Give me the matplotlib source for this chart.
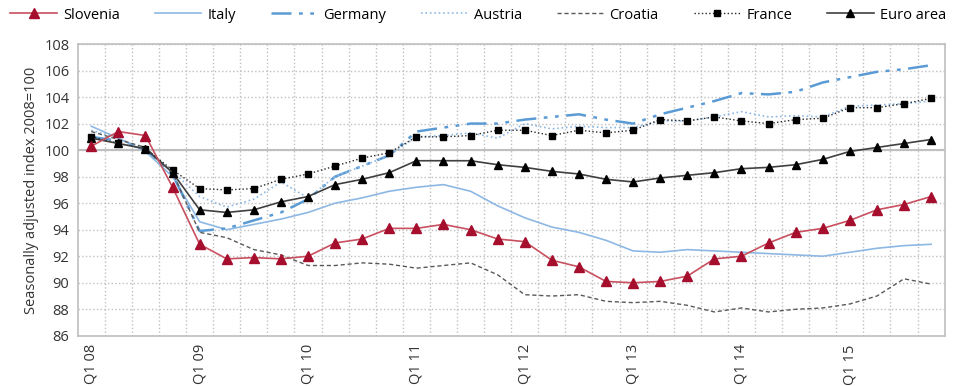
import matplotlib.pyplot as plt
import numpy as np

plt.rcParams['font.family'] = ['Open Sans', 'DejaVu Sans']

quarters = ['Q%d %02d' % (q, y) for y in range(8, 16) for q in range(1, 5)]

slovenia = [100.3, 101.4, 101.1, 97.2, 92.9, 91.8, 91.9, 91.8,
            92.0, 93.0, 93.3, 94.1, 94.1, 94.4, 94.0, 93.3,
            93.1, 91.7, 91.2, 90.1, 90.0, 90.1, 90.5, 91.8,
            92.0, 93.0, 93.8, 94.1, 94.7, 95.5, 95.9, 96.5]
italy = [101.8, 100.9, 99.9, 98.0, 94.6, 94.0, 94.4, 94.8,
         95.3, 96.0, 96.4, 96.9, 97.2, 97.4, 96.9, 95.8,
         94.9, 94.2, 93.8, 93.2, 92.4, 92.3, 92.5, 92.4,
         92.3, 92.2, 92.1, 92.0, 92.3, 92.6, 92.8, 92.9]
germany = [101.0, 100.7, 100.1, 98.2, 93.9, 94.1, 94.7, 95.3,
           96.3, 98.0, 98.8, 99.6, 101.4, 101.7, 102.0, 102.0,
           102.3, 102.5, 102.7, 102.3, 102.0, 102.7, 103.2, 103.7,
           104.3, 104.2, 104.4, 105.1, 105.5, 105.9, 106.1, 106.4]
austria = [101.5, 100.9, 100.0, 98.4, 96.5, 95.7, 96.3, 97.6,
           96.4, 98.0, 98.8, 99.6, 101.0, 101.1, 101.3, 100.9,
           102.0, 101.6, 101.8, 101.7, 101.7, 102.2, 102.2, 102.5,
           102.9, 102.5, 102.6, 102.5, 103.3, 103.4, 103.5, 103.7]
croatia = [101.4, 100.8, 100.2, 98.3, 93.8, 93.4, 92.5, 92.1,
           91.3, 91.3, 91.5, 91.4, 91.1, 91.3, 91.5, 90.6,
           89.1, 89.0, 89.1, 88.6, 88.5, 88.6, 88.3, 87.8,
           88.1, 87.8, 88.0, 88.1, 88.4, 89.0, 90.3, 89.9]
france = [101.0, 100.5, 100.1, 98.5, 97.1, 97.0, 97.1, 97.8,
          98.2, 98.8, 99.4, 99.8, 101.0, 101.0, 101.1, 101.5,
          101.5, 101.1, 101.5, 101.3, 101.5, 102.3, 102.2, 102.5,
          102.2, 102.0, 102.3, 102.4, 103.2, 103.2, 103.5, 103.9]
euro_area = [100.9, 100.5, 100.1, 98.3, 95.5, 95.3, 95.5, 96.1,
             96.5, 97.4, 97.8, 98.3, 99.2, 99.2, 99.2, 98.9,
             98.7, 98.4, 98.2, 97.8, 97.6, 97.9, 98.1, 98.3,
             98.6, 98.7, 98.9, 99.3, 99.9, 100.2, 100.5, 100.8]

x = np.arange(len(quarters))

fig = plt.figure(figsize=(9.6, 3.86), dpi=100)
ax = fig.add_axes([0.081, 0.13, 0.903, 0.756])

ax.plot(x, slovenia, color='#c8505f', lw=1.2, marker='^', ms=6.5,
        mfc='#a50f2d', mec='#a50f2d', label='Slovenia', zorder=5)
ax.plot(x, italy, color='#8db8e4', lw=1.2, label='Italy', zorder=3)
ax.plot(x, germany, color='#5b9bd5', lw=1.8, dashes=[8, 3, 1.5, 3, 1.5, 3],
        label='Germany', zorder=3)
ax.plot(x, austria, color='#8db8e4', lw=1.2, ls=':', label='Austria', zorder=3)
ax.plot(x, croatia, color='#595959', lw=1.0, dashes=[3, 2], label='Croatia', zorder=3)
ax.plot(x, france, color='#262626', lw=1.0, ls=':', marker='s', ms=5,
        mfc='black', mec='black', label='France', zorder=4)
ax.plot(x, euro_area, color='#404040', lw=1.2, marker='^', ms=6,
        mfc='black', mec='black', label='Euro area', zorder=4)

ax.set_xlim(-0.5, len(quarters) - 0.5)
ax.set_ylim(86, 108)
ax.set_yticks(np.arange(86, 109, 2))
ax.set_xticks(x[::4])
ax.set_xticklabels(quarters[::4], rotation=90, fontsize=10.5, color='#333333')
ax.set_xticks(x[:-1] + 0.5, minor=True)
ax.tick_params(axis='x', which='both', length=0, pad=6)
ax.tick_params(axis='y', length=0, labelsize=10.5, colors='#333333', pad=6)

ax.grid(False)
ax.xaxis.grid(True, which='minor', color='#bfbfbf', ls=':', lw=1.0)
ax.yaxis.grid(True, which='major', color='#bfbfbf', ls=':', lw=1.0)
ax.axhline(100, color='#bfbfbf', lw=1.5, zorder=2)
for s in ax.spines.values():
    s.set_color('#bfbfbf')
    s.set_linewidth(1.2)

ax.set_ylabel('Seasonally adjusted index 2008=100', fontsize=10.5, color='#333333')

ax.legend(loc='center', bbox_to_anchor=(0.498, 0.961), bbox_transform=fig.transFigure,
          ncol=7, frameon=False, fontsize=10.5, handlelength=3.2, columnspacing=2.4,
          handletextpad=0.4, borderaxespad=0, borderpad=0)

fig.savefig('out.png', dpi=100)
